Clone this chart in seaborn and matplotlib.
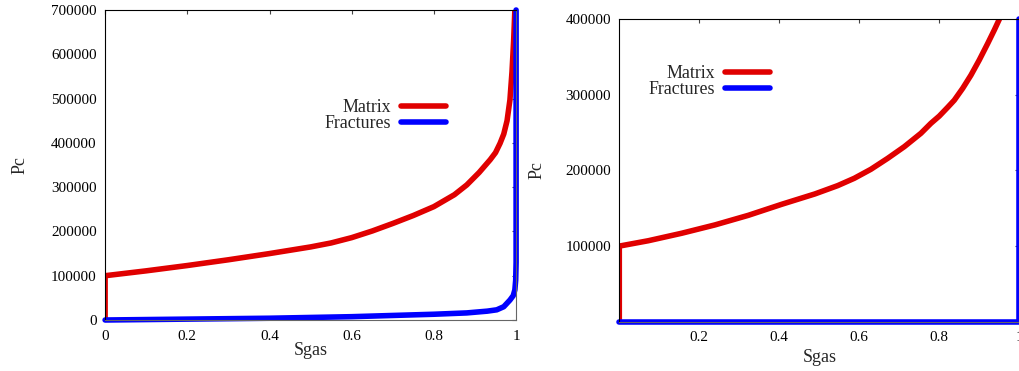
import matplotlib
matplotlib.use("Agg")
import matplotlib.pyplot as plt
import seaborn as sns

# ---- data ----
# left panel
left_matrix_s = [0, 0, 0.1, 0.2, 0.3, 0.4, 0.5, 0.55, 0.6, 0.65, 0.7, 0.75, 0.8, 0.85, 0.88, 0.91, 0.937, 0.95, 0.961, 0.97, 0.978, 0.985, 0.99, 0.994, 0.997]
left_matrix_pc = [0, 100000, 111000, 123000, 136000, 150000, 165000, 174000, 186000, 201000, 218000, 236000, 256000, 283000, 305000, 333000, 362000, 378000, 399000, 420000, 450000, 497000, 560000, 630000, 700000]
left_frac_s = [0, 0.2, 0.4, 0.6, 0.8, 0.88, 0.93, 0.953, 0.97, 0.985, 0.993, 0.997, 0.999, 1.0, 1.0]
left_frac_pc = [0, 2000, 4000, 7500, 13000, 16000, 20000, 23000, 30000, 45000, 55000, 68000, 90000, 130000, 700000]

# right panel
right_matrix_s = [0, 0, 0.0725, 0.156, 0.239, 0.3225, 0.406, 0.489, 0.546, 0.5875, 0.629, 0.671, 0.7125, 0.754, 0.779, 0.8, 0.821, 0.8375, 0.8585, 0.879, 0.9, 0.921, 0.9375, 0.95, 0.97]
right_matrix_pc = [0, 100000, 107100, 117000, 128000, 140700, 155300, 169000, 180000, 189700, 201600, 216100, 231500, 249200, 262400, 272000, 283600, 293000, 308700, 326000, 346200, 368000, 385800, 400000, 440000]
right_frac_s = [0, 1.0, 1.0]
right_frac_pc = [0, 0, 400000]

labels = ["Matrix", "Fractures"]
left_xticks = [0, 0.2, 0.4, 0.6, 0.8, 1]
left_xticklabels = ["0", "0.2", "0.4", "0.6", "0.8", "1"]
left_yticks = [0, 100000, 200000, 300000, 400000, 500000, 600000, 700000]
right_xticks = [0.2, 0.4, 0.6, 0.8, 1]
right_xticklabels = ["0.2", "0.4", "0.6", "0.8", "1"]
right_yticks = [100000, 200000, 300000, 400000]

RED = "#e00000"
BLUE = "#0000ff"

sns.set_style("white")
plt.rcParams["font.family"] = ["Liberation Serif", "DejaVu Serif"]

fig = plt.figure(figsize=(10.19, 3.71), dpi=100)
W, H = 1019.0, 371.0
ax1 = fig.add_axes([105.1 / W, 1 - 320 / H, 411 / W, 310 / H])
ax2 = fig.add_axes([619.3 / W, 1 - 321.7 / H, 400 / W, 302.4 / H])


def style_axes(ax):
    for sp in ax.spines.values():
        sp.set_color("black")
        sp.set_linewidth(0.8)
        sp.set_visible(True)
    ax.spines["bottom"].set_color("#666666")
    ax.spines["right"].set_color("#666666")
    ax.tick_params(direction="in", length=3, width=0.8, color="#444444",
                   top=True, right=True, labelsize=10.9, labelcolor="black")
    ax.tick_params(axis="y", pad=6)
    ax.tick_params(axis="x", pad=7)


def add_legend(ax, anchor):
    ax.legend(loc="upper right", bbox_to_anchor=anchor, frameon=False,
              markerfirst=False, fontsize=12.9, handlelength=2.5, handletextpad=0.55,
              labelspacing=-0.08, borderpad=0, borderaxespad=0)


# left panel
sns.lineplot(x=left_matrix_s, y=left_matrix_pc, ax=ax1, sort=False, estimator=None,
             color=RED, linewidth=4, label=labels[0])
sns.lineplot(x=left_frac_s, y=left_frac_pc, ax=ax1, sort=False, estimator=None,
             color=BLUE, linewidth=4, label=labels[1], clip_on=False)
ax1.set_xlim(0, 1)
ax1.set_ylim(0, 700000)
ax1.set_xticks(left_xticks)
ax1.set_xticklabels(left_xticklabels)
ax1.set_yticks(left_yticks)
ax1.set_yticklabels([str(v) for v in left_yticks])
style_axes(ax1)
ax1.set_xlabel("Sgas", fontsize=12.9)
ax1.set_ylabel("Pc", fontsize=12.9)
ax1.xaxis.set_label_coords(0.5, -0.07)
ax1.yaxis.set_label_coords(-0.187, 0.5)
add_legend(ax1, (0.829, 0.712))

# right panel
sns.lineplot(x=right_matrix_s, y=right_matrix_pc, ax=ax2, sort=False, estimator=None,
             color=RED, linewidth=4, label=labels[0])
sns.lineplot(x=right_frac_s, y=right_frac_pc, ax=ax2, sort=False, estimator=None,
             color=BLUE, linewidth=4, label=labels[1], clip_on=False)
ax2.set_xlim(0, 1)
ax2.set_ylim(0, 400000)
ax2.set_xticks(right_xticks)
ax2.set_xticklabels(right_xticklabels)
ax2.set_yticks(right_yticks)
ax2.set_yticklabels([str(v) for v in right_yticks])
style_axes(ax2)
ax2.set_xlabel("Sgas", fontsize=12.9)
ax2.set_ylabel("Pc", fontsize=12.9)
ax2.xaxis.set_label_coords(0.5, -0.089)
ax2.yaxis.set_label_coords(-0.185, 0.5)
add_legend(ax2, (0.377, 0.848))

fig.savefig("out.png", dpi=100)
